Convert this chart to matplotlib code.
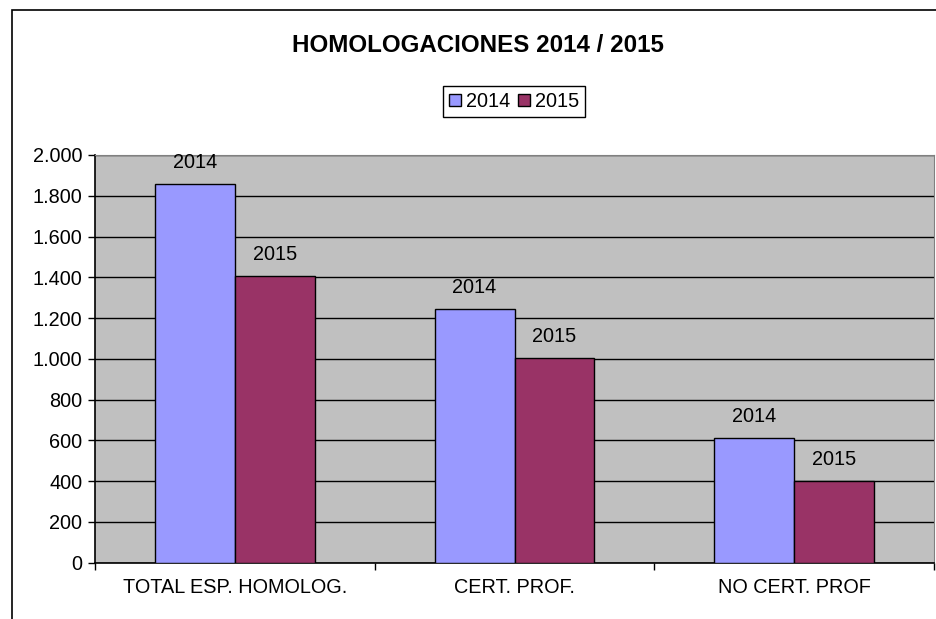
import matplotlib.pyplot as plt
import matplotlib.patches as mpatches
import numpy as np

plt.rcParams['font.family'] = ['Liberation Sans', 'DejaVu Sans']

categorias = ['TOTAL ESP. HOMOLOG.', 'CERT. PROF.', 'NO CERT. PROF']
series = ['2014', '2015']
valores_2014 = [1856, 1245, 613]
valores_2015 = [1407, 1005, 401]
ticks_y = [0, 200, 400, 600, 800, 1000, 1200, 1400, 1600, 1800, 2000]

fig = plt.figure(figsize=(9.36, 6.19), dpi=100)
ax = fig.add_axes([95 / 936, 1 - 562.7 / 619, (934 - 95) / 936, (562.7 - 155) / 619])

# marco del grafico (recortado a la derecha y abajo)
fig.patches.append(mpatches.Rectangle((12 / 936, -0.1), 1.2, 1 - 10 / 619 + 0.1,
                                      transform=fig.transFigure, fill=False,
                                      edgecolor='black', linewidth=1.2))

x = np.arange(len(categorias))
ancho = 0.286
ax.set_facecolor('#C0C0C0')
b1 = ax.bar(x - ancho / 2, valores_2014, ancho, color='#9999FF', edgecolor='black', linewidth=1, zorder=3)
b2 = ax.bar(x + ancho / 2, valores_2015, ancho, color='#993366', edgecolor='black', linewidth=1, zorder=3)

for barras, nombre in [(b1, series[0]), (b2, series[1])]:
    for b in barras:
        ax.annotate(nombre, (b.get_x() + b.get_width() / 2, b.get_height()),
                    xytext=(0, 11.5), textcoords='offset points',
                    ha='center', va='baseline', fontsize=14.3)

ax.set_xlim(-0.5, 2.5)
ax.set_ylim(0, 2000)
ax.set_yticks(ticks_y)
ax.set_yticklabels([f'{v:,}'.replace(',', '.') for v in ticks_y], fontsize=14.3)
ax.yaxis.grid(True, color='black', linewidth=1, zorder=1)
ax.set_axisbelow(True)

ax.set_xticks([-0.5, 0.5, 1.5, 2.5])
ax.set_xticklabels([])
ax.set_xticks(x, minor=True)
ax.set_xticklabels(categorias, minor=True, fontsize=14.3)
ax.tick_params(axis='x', which='minor', length=0, pad=11)
ax.tick_params(axis='x', which='major', length=5, width=1)
ax.tick_params(axis='y', length=5, width=1, pad=4)

for lado in ['top', 'right']:
    ax.spines[lado].set_color('#808080')
for lado in ['left', 'bottom']:
    ax.spines[lado].set_color('black')
    ax.spines[lado].set_linewidth(1.2)

fig.text(477.5 / 936, 1 - 45 / 619, 'HOMOLOGACIONES 2014 / 2015', ha='center', va='center',
         fontsize=17.4, fontweight='bold')

handles = [mpatches.Patch(facecolor='#9999FF', edgecolor='black', label='2014'),
           mpatches.Patch(facecolor='#993366', edgecolor='black', label='2015')]
fig.legend(handles=handles, loc='center', bbox_to_anchor=(514 / 936, 1 - 101.5 / 619), ncol=2,
           fontsize=14.3, frameon=True, fancybox=False, edgecolor='black', framealpha=1,
           handlelength=0.6, handleheight=0.6, handletextpad=0.25, columnspacing=0.4,
           borderpad=0.3, borderaxespad=0)

fig.savefig('out.png', dpi=100)
